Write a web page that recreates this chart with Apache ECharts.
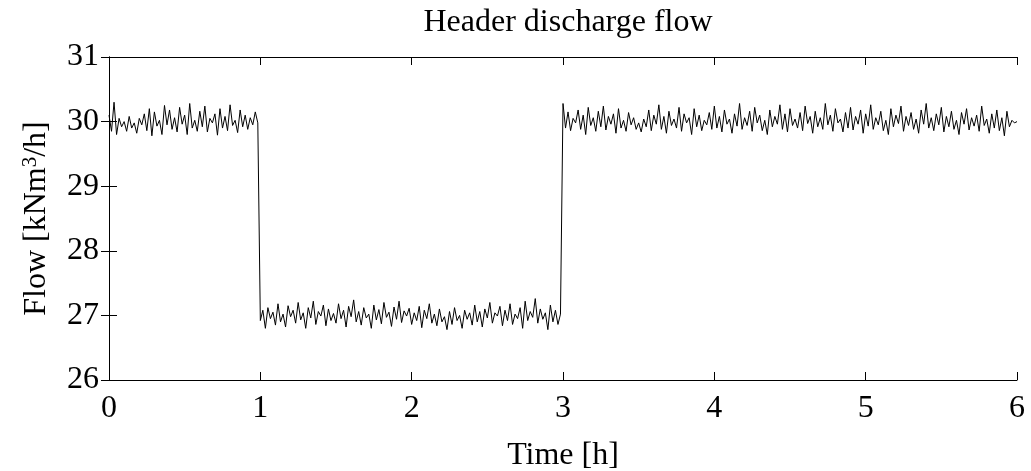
<!DOCTYPE html>
<html>
<head>
<meta charset="utf-8">
<script src="https://cdn.jsdelivr.net/npm/echarts@6/dist/echarts.min.js"></script>
<style>
  html, body { margin: 0; padding: 0; background: #fff; }
  #chart { width: 1031px; height: 471px; }
</style>
</head>
<body>
<div id="chart"></div>
<script>
// sample step: 1 minute (1/60 h)
const stepHours = 1 / 60;

// 0 h .. 1 h
const flowA = [
    30.10, 29.85, 30.30, 29.80, 30.05, 29.92, 30.00, 29.85, 30.08, 29.90,
    29.98, 29.82, 30.05, 29.95, 30.12, 29.86, 30.20, 29.78, 30.15, 29.93,
    30.02, 29.80, 30.25, 29.95, 30.18, 29.88, 30.06, 29.84, 30.22, 29.96,
    30.10, 29.80, 30.28, 29.90, 30.02, 29.85, 30.16, 29.92, 30.24, 29.84,
    30.05, 29.98, 30.12, 29.79, 30.20, 29.90, 30.08, 29.86, 30.26, 29.94,
    30.02, 29.83, 30.18, 29.92, 30.10, 29.88, 30.06, 29.95, 30.15, 29.98
];

// 1 h .. 3 h
const flowB = [
    26.92, 27.08, 26.80, 27.12, 26.95, 27.05, 26.85, 27.18, 26.90, 27.02,
    26.82, 27.15, 26.98, 27.08, 26.88, 27.20, 26.93, 27.04, 26.80, 27.12,
    26.96, 27.22, 26.86, 27.06, 26.99, 27.16, 26.84, 27.10, 26.92, 27.03,
    26.88, 27.18, 26.95, 27.08, 26.82, 27.14, 26.98, 27.24, 26.90, 27.06,
    26.85, 27.12, 26.96, 27.02, 26.80, 27.16, 26.93, 27.09, 26.87, 27.20,
    26.97, 27.05, 26.83, 27.13, 26.94, 27.22, 26.89, 27.07, 26.99, 27.11,
    26.86, 27.04, 26.92, 27.14, 26.81, 27.08, 26.95, 27.18, 26.88, 27.02,
    26.84, 27.10, 26.90, 26.98, 26.78, 27.06, 26.86, 27.12, 26.92, 27.00,
    26.80, 27.08, 26.94, 27.04, 26.85, 27.16, 26.90, 27.06, 26.82, 27.10,
    26.96, 27.20, 26.88, 27.04, 26.99, 27.14, 26.84, 27.08, 26.92, 27.18,
    26.86, 27.02, 26.95, 27.12, 26.80, 27.22, 26.92, 27.06, 26.97, 27.26,
    26.88, 27.10, 26.94, 27.04, 26.78, 27.16, 26.90, 27.08, 26.86, 27.02
];

// 3 h .. 6 h
const flowC = [
    30.28, 29.90, 30.15, 29.86, 30.05, 29.98, 30.18, 29.88, 30.10, 29.80,
    30.22, 29.94, 30.06, 29.85, 30.16, 29.92, 30.24, 29.87, 30.08, 29.96,
    30.12, 29.82, 30.20, 29.90, 30.02, 29.85, 30.14, 29.95, 30.06, 29.88,
    29.98, 29.84, 30.04, 29.92, 30.18, 29.86, 30.10, 29.96, 30.26, 29.88,
    30.08, 29.82, 30.16, 29.94, 30.04, 29.90, 30.22, 29.85, 30.12, 29.98,
    30.06, 29.80, 30.20, 29.92, 30.10, 29.86, 30.02, 29.95, 30.14, 29.88,
    30.24, 29.90, 30.08, 29.84, 30.18, 29.96, 30.04, 29.82, 30.12, 29.93,
    30.28, 29.88, 30.06, 29.94, 30.16, 29.85, 30.22, 29.98, 30.10, 29.86,
    30.02, 29.80, 30.18, 29.92, 30.08, 29.96, 30.26, 29.88, 30.12, 29.84,
    30.20, 29.94, 30.04, 29.90, 30.14, 29.86, 30.24, 29.97, 30.08, 29.82,
    30.16, 29.92, 30.06, 29.88, 30.28, 29.95, 30.10, 29.85, 30.20, 29.98,
    30.04, 29.84, 30.14, 29.90, 30.22, 29.87, 30.08, 29.96, 30.18, 29.82,
    30.12, 29.93, 30.26, 29.88, 30.06, 29.95, 30.16, 29.86, 30.02, 29.80,
    30.20, 29.92, 30.10, 29.97, 30.24, 29.85, 30.08, 29.94, 30.14, 29.88,
    30.04, 29.82, 30.18, 29.96, 30.28, 29.90, 30.06, 29.86, 30.12, 29.95,
    30.22, 29.84, 30.08, 29.92, 30.16, 29.88, 30.02, 29.80, 30.14, 29.96,
    30.20, 29.87, 30.06, 29.93, 30.10, 29.85, 30.24, 29.94, 30.04, 29.82,
    30.12, 29.90, 30.18, 29.86, 30.06, 29.78, 30.16, 29.92, 30.02, 29.98,
    30.00
];

const xTicks = [0, 1, 2, 3, 4, 5, 6];
const yTicks = [26, 27, 28, 29, 30, 31];

const flow = flowA.concat(flowB, flowC);
const seriesData = flow.map((v, i) => [i * stepHours, v]);

const serif = '"Liberation Serif", "Times New Roman", serif';
const black = '#000';

const tickStyle = { show: true, inside: true, length: 8, lineStyle: { color: black, width: 1 } };
const lineStyle = { show: true, lineStyle: { color: black, width: 1 } };

const option = {
    backgroundColor: '#fff',
    animation: false,
    title: {
        text: 'Header discharge flow',
        left: 563,
        top: 2,
        textAlign: 'center',
        textStyle: { fontFamily: serif, fontWeight: 'normal', fontSize: 32, color: black }
    },
    // keep the plot box fixed even when the axis name reaches the bottom edge
    grid: { left: 109, right: 14, top: 57, bottom: 91, outerBoundsMode: 'none', containLabel: false },
    xAxis: [{
        type: 'value',
        min: xTicks[0],
        max: xTicks[xTicks.length - 1],
        interval: 1,
        name: 'Time [h]',
        nameLocation: 'middle',
        nameGap: 60,
        nameTextStyle: { fontFamily: serif, fontSize: 32, color: black },
        axisLine: lineStyle,
        axisTick: tickStyle,
        splitLine: { show: false },
        axisLabel: { fontFamily: serif, fontSize: 32, color: black, margin: 13 }
    }, {
        type: 'value',
        position: 'top',
        min: xTicks[0],
        max: xTicks[xTicks.length - 1],
        interval: 1,
        axisLine: lineStyle,
        axisTick: tickStyle,
        splitLine: { show: false },
        axisLabel: { show: false }
    }],
    yAxis: [{
        type: 'value',
        min: yTicks[0],
        max: yTicks[yTicks.length - 1],
        interval: 1,
        name: 'Flow [kNm{sup|3}/h]',
        nameLocation: 'middle',
        nameRotate: 90,
        nameGap: 56,
        nameTextStyle: {
            fontFamily: serif, fontSize: 32, color: black,
            rich: { sup: { fontFamily: serif, fontSize: 21, color: black, verticalAlign: 'top', padding: [0, 0, 12, 0] } }
        },
        axisLine: lineStyle,
        axisTick: tickStyle,
        splitLine: { show: false },
        axisLabel: { fontFamily: serif, fontSize: 32, color: black, margin: 10 }
    }, {
        type: 'value',
        position: 'right',
        min: yTicks[0],
        max: yTicks[yTicks.length - 1],
        interval: 1,
        axisLine: lineStyle,
        axisTick: tickStyle,
        splitLine: { show: false },
        axisLabel: { show: false }
    }],
    series: [{
        type: 'line',
        data: seriesData,
        showSymbol: false,
        symbol: 'none',
        lineStyle: { color: black, width: 1 },
        silent: true
    }]
};

const chart = echarts.init(document.getElementById('chart'), null, { renderer: 'canvas' });
chart.setOption(option);
</script>
</body>
</html>
